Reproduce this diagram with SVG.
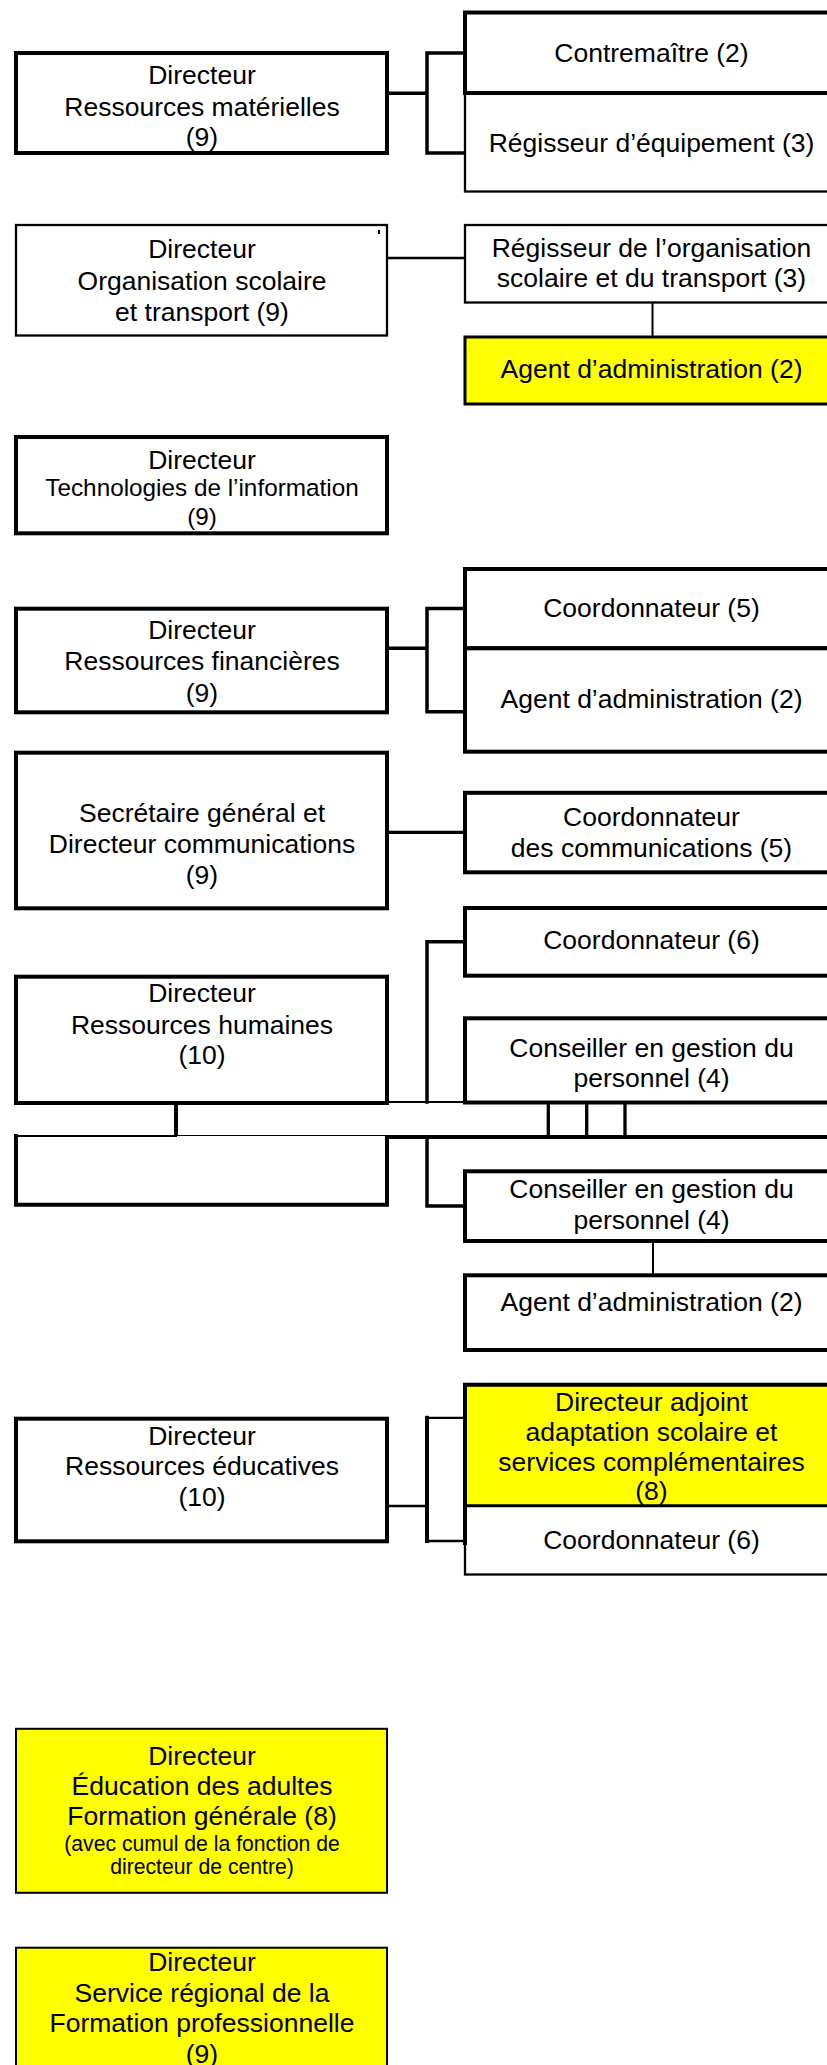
<svg xmlns="http://www.w3.org/2000/svg" width="827" height="2065" viewBox="0 0 827 2065">
<style>
.b{fill:#fff;stroke:#000;stroke-width:4}
.bt{fill:#fff;stroke:#000;stroke-width:2.3}
.y{fill:#ffff00}
.c{fill:none;stroke:#000;stroke-linecap:square}
text{font-family:"Liberation Sans",Arial,sans-serif;font-size:26.5px;text-anchor:middle;fill:#000}
.s24{font-size:24.3px}
.s20{font-size:21.2px}
</style>
<rect width="827" height="2065" fill="#fff"/>

<g id="connectors">
<path class="c" stroke-width="3.5" d="M389,93.3 H427 M465,53 H427 V153 H465"/>
<path class="c" stroke-width="2.3" d="M389,258 H465"/>
<path class="c" stroke-width="2" d="M652.5,303 V337"/>
<path class="c" stroke-width="3.5" d="M389,648.3 H427 M465,608.5 H427 V711.7 H465"/>
<path class="c" stroke-width="3.2" d="M389,832.3 H465"/>
<path class="c" stroke-width="3.5" d="M465,941.7 H427 V1102"/>
<path class="c" stroke-width="2" d="M389,1102 H465"/>
<path class="c" stroke-width="4" d="M176,1103 V1137 H840"/>
<path class="c" stroke-width="3.3" d="M548.3,1103 V1137 M586.7,1103 V1137 M625,1103 V1137"/>
<path class="c" stroke-width="3.5" d="M427,1137 V1206 H465"/>
<path class="c" stroke-width="2" d="M653,1241 V1275"/>
<path class="c" stroke-width="2.3" d="M389,1506 H427 M465,1417.8 H427 M427,1541 H465"/>
<path class="c" stroke-width="4" d="M427,1417.8 V1541"/>
</g>

<g id="dir-ressources-materielles">
<rect class="b" x="16" y="53" width="371" height="100"/>
<text x="202" y="84">Directeur</text>
<text x="202" y="115.5">Ressources matérielles</text>
<text x="202" y="146">(9)</text>
</g>
<g id="regisseur-equipement">
<rect class="bt" x="465" y="93" width="380" height="98.5"/>
<text x="651.5" y="152">Régisseur d’équipement (3)</text>
</g>
<g id="contremaitre">
<rect class="b" x="465" y="12.5" width="380" height="80.5"/>
<text x="651.5" y="61.5">Contremaître (2)</text>
</g>

<g id="dir-organisation-scolaire">
<rect class="bt" x="16" y="225" width="371" height="110.5"/>
<line x1="379" y1="230" x2="379" y2="234" stroke="#000" stroke-width="2"/>
<text x="202" y="258">Directeur</text>
<text x="202" y="289.5">Organisation scolaire</text>
<text x="202" y="320.5">et transport (9)</text>
</g>
<g id="regisseur-organisation">
<rect class="bt" x="465" y="225" width="380" height="77.5"/>
<text x="651.5" y="256.5">Régisseur de l’organisation</text>
<text x="651.5" y="287">scolaire et du transport (3)</text>
</g>
<g id="agent-admin-1">
<rect class="b y" style="stroke-width:3" x="465" y="337" width="380" height="67"/>
<text x="651.5" y="378">Agent d’administration (2)</text>
</g>

<g id="dir-technologies">
<rect class="b" x="16" y="437" width="371" height="96.3"/>
<text x="202" y="468.5">Directeur</text>
<text class="s24" x="202" y="495.5">Technologies de l’information</text>
<text class="s24" x="202" y="525">(9)</text>
</g>

<g id="dir-ressources-financieres">
<rect class="b" x="16" y="608.7" width="371" height="103.6"/>
<text x="202" y="638.5">Directeur</text>
<text x="202" y="670">Ressources financières</text>
<text x="202" y="701.5">(9)</text>
</g>
<g id="coordonnateur-5">
<rect class="b" x="465" y="569" width="380" height="79.3"/>
<text x="651.5" y="616.5">Coordonnateur (5)</text>
</g>
<g id="agent-admin-2">
<rect class="b" x="465" y="648.3" width="380" height="103.4"/>
<text x="651.5" y="708">Agent d’administration (2)</text>
</g>

<g id="secretaire-general">
<rect class="b" x="16" y="752.7" width="371" height="155.6"/>
<text x="202" y="821.5">Secrétaire général et</text>
<text x="202" y="853">Directeur communications</text>
<text x="202" y="883.5">(9)</text>
</g>
<g id="coordonnateur-communications">
<rect class="b" x="465" y="792.8" width="380" height="79.5"/>
<text x="651.5" y="825.5">Coordonnateur</text>
<text x="651.5" y="857">des communications (5)</text>
</g>

<g id="coordonnateur-6a">
<rect class="b" x="465" y="908" width="380" height="67.7"/>
<text x="651.5" y="949">Coordonnateur (6)</text>
</g>
<g id="dir-ressources-humaines">
<rect class="b" x="16" y="976.7" width="371" height="126.3"/>
<text x="202" y="1002">Directeur</text>
<text x="202" y="1033.5">Ressources humaines</text>
<text x="202" y="1064">(10)</text>
</g>
<g id="conseiller-1">
<rect class="b" x="465" y="1018.3" width="380" height="84.2"/>
<text x="651.5" y="1056.5">Conseiller en gestion du</text>
<text x="651.5" y="1087">personnel (4)</text>
</g>

<g id="empty-box">
<rect x="16" y="1136" width="371" height="68.7" fill="#fff"/>
<path class="c" stroke-width="4" d="M16,1136 V1204.7 H387 V1137"/>
<path class="c" stroke-width="2" d="M16,1136 H176"/>
</g>
<g id="conseiller-2">
<rect class="b" x="465" y="1171.3" width="380" height="69.7"/>
<text x="651.5" y="1198">Conseiller en gestion du</text>
<text x="651.5" y="1228.5">personnel (4)</text>
</g>
<g id="agent-admin-3">
<rect class="b" x="465" y="1275.3" width="380" height="74.7"/>
<text x="651.5" y="1311">Agent d’administration (2)</text>
</g>

<g id="dir-ressources-educatives">
<rect class="b" x="16" y="1418.7" width="371" height="122.6"/>
<text x="202" y="1444.5">Directeur</text>
<text x="202" y="1475">Ressources éducatives</text>
<text x="202" y="1505.5">(10)</text>
</g>
<g id="coordonnateur-6b">
<rect class="bt" x="465" y="1505.8" width="380" height="68.7"/>
<text x="651.5" y="1548.5">Coordonnateur (6)</text>
</g>
<g id="dir-adjoint">
<path d="M465,1505.8 V1384.7 H845 V1505.8 Z" fill="#ffff00"/>
<path class="c" stroke-width="4" d="M465,1543 V1384.7 H845"/>
<path class="c" stroke-width="3" d="M465,1505.8 H845"/>
<text x="651.5" y="1411">Directeur adjoint</text>
<text x="651.5" y="1441">adaptation scolaire et</text>
<text x="651.5" y="1471">services complémentaires</text>
<text x="651.5" y="1500">(8)</text>
</g>

<g id="dir-education-adultes">
<rect class="bt y" style="stroke-width:2" x="16" y="1728.8" width="371" height="164"/>
<text x="202" y="1764.5">Directeur</text>
<text x="202" y="1795">Éducation des adultes</text>
<text x="202" y="1825">Formation générale (8)</text>
<text class="s20" x="202" y="1851">(avec cumul de la fonction de</text>
<text class="s20" x="202" y="1873.5">directeur de centre)</text>
</g>

<g id="dir-formation-professionnelle">
<rect class="bt y" style="stroke-width:2" x="16" y="1947.7" width="371" height="140"/>
<text x="202" y="1971">Directeur</text>
<text x="202" y="2001.5">Service régional de la</text>
<text x="202" y="2032">Formation professionnelle</text>
<text x="202" y="2063">(9)</text>
</g>
</svg>
